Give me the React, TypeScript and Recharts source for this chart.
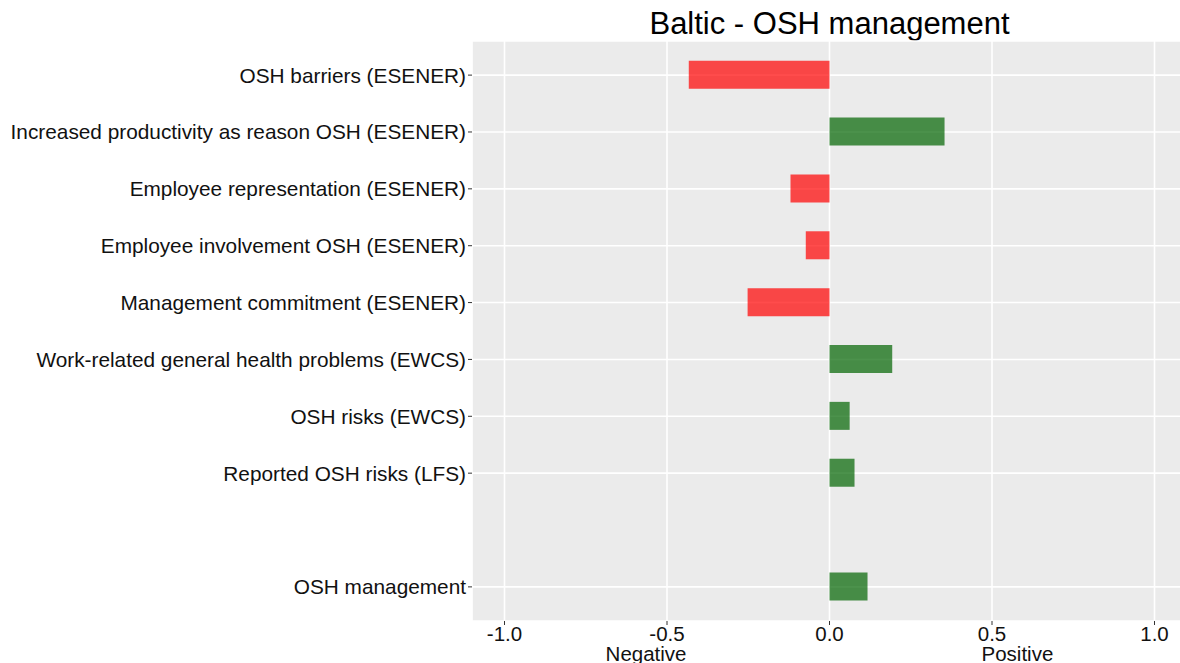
import { BarChart, Bar, XAxis, YAxis, CartesianGrid, Cell } from 'recharts';

// rows from top to bottom; slot 9 is an empty gap in the original
const labels = [
    'OSH barriers (ESENER)',
    'Increased productivity as reason OSH (ESENER)',
    'Employee representation (ESENER)',
    'Employee involvement OSH (ESENER)',
    'Management commitment (ESENER)',
    'Work-related general health problems (EWCS)',
    'OSH risks (EWCS)',
    'Reported OSH risks (LFS)',
    'OSH management',
];
const positions = [1, 2, 3, 4, 5, 6, 7, 8, 10];
const values = [-0.433, 0.354, -0.12, -0.073, -0.252, 0.193, 0.062, 0.077, 0.117];

const xTicks = [-1, -0.5, 0, 0.5, 1];
const xMinorTicks = [-0.75, -0.25, 0.25, 0.75];

const COLORS = {
    negative: 'red',
    positive: 'darkgreen',
};

const FONT = '"Liberation Sans", Arial, sans-serif';

const data = labels.map((name, i) => ({ name, pos: positions[i], value: values[i] }));

const labelFor = (pos: number) => {
    const idx = positions.indexOf(pos);
    return idx >= 0 ? labels[idx] : '';
};

const AxisTitle = ({ viewBox }: { viewBox?: { x: number; y: number; width: number; height: number } }) => {
    if (!viewBox) return null;
    const cx = viewBox.x + viewBox.width / 2;
    const y = viewBox.y + 39.5;
    return (
        <g fontFamily={FONT} fontSize={20.5} fill="#111">
            <text x={cx - 143} y={y} textAnchor="end">Negative</text>
            <text x={cx + 152} y={y} textAnchor="start">Positive</text>
        </g>
    );
};

export default function App() {
    return (
        <div style={{ position: 'absolute', left: 0, top: 0, width: 1180, height: 663, overflow: 'hidden', background: '#fff' }}>
            <div
                style={{
                    position: 'absolute',
                    left: 472,
                    top: 8,
                    width: 715,
                    textAlign: 'center',
                    fontFamily: FONT,
                    fontSize: 31,
                    lineHeight: '31px',
                    color: '#000',
                }}
            >
                Baltic - OSH management
            </div>
            <BarChart
                width={1190}
                height={663}
                data={data}
                layout="vertical"
                margin={{ top: 41, right: 3, bottom: 0, left: 0 }}
            >
                <CartesianGrid fill="#EBEBEB" stroke="#fff" strokeWidth={1.6} />
                <CartesianGrid xAxisId="minor" horizontal={false} stroke="#fff" strokeWidth={0.8} />
                <XAxis
                    type="number"
                    dataKey="value"
                    domain={[-1.1, 1.1]}
                    ticks={xTicks}
                    tickFormatter={(v: number) => v.toFixed(1)}
                    height={42}
                    axisLine={false}
                    tickSize={4}
                    tickMargin={1}
                    tickLine={{ stroke: '#333' }}
                    tick={{ fill: '#111', fontSize: 20.5, fontFamily: FONT }}
                    label={<AxisTitle />}
                />
                <XAxis
                    xAxisId="minor"
                    type="number"
                    domain={[-1.1, 1.1]}
                    ticks={xMinorTicks}
                    hide
                />
                <YAxis
                    type="number"
                    dataKey="pos"
                    domain={[0.4, 10.6]}
                    ticks={positions}
                    interval={0}
                    width={472}
                    axisLine={false}
                    tickSize={4}
                    tickMargin={2}
                    tickLine={{ stroke: '#333' }}
                    tickFormatter={labelFor}
                    tick={{ fill: '#111', fontSize: 20.8, fontFamily: FONT }}
                />
                <Bar dataKey="value" barSize={28} isAnimationActive={false}>
                    {data.map((entry, index) => (
                        <Cell
                            key={`cell-${index}`}
                            fill={entry.value < 0 ? COLORS.negative : COLORS.positive}
                            fillOpacity={0.7}
                        />
                    ))}
                </Bar>
            </BarChart>
        </div>
    );
}
